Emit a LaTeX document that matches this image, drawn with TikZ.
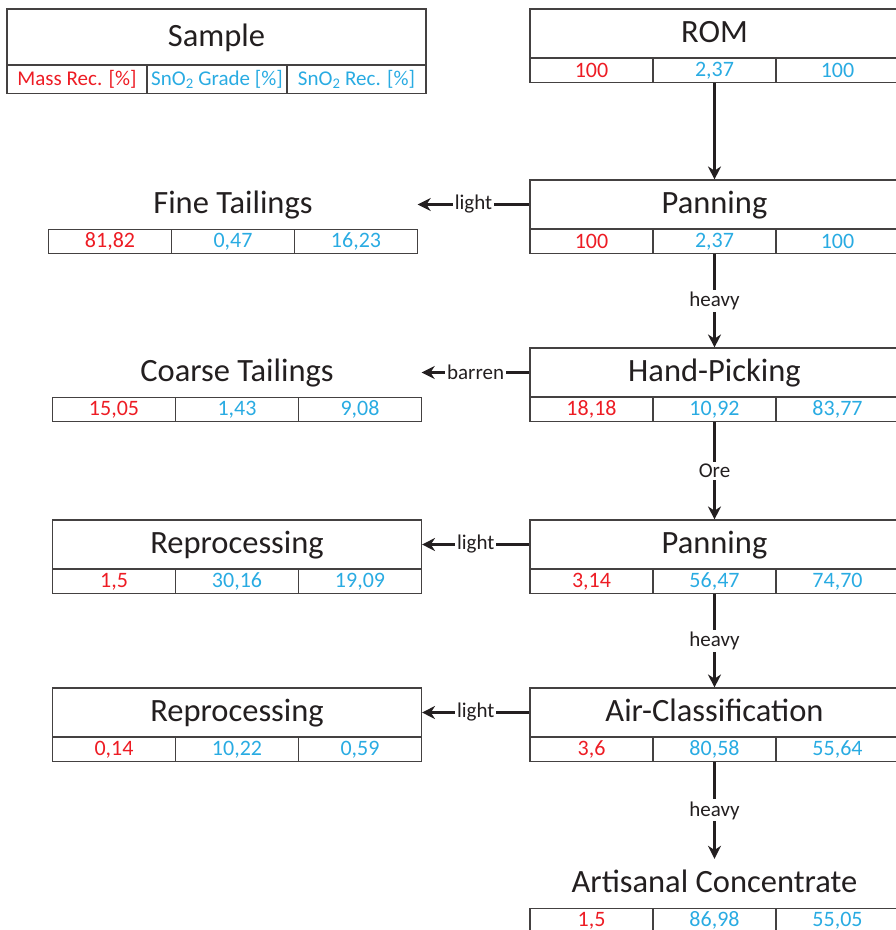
\documentclass[tikz,border=0pt]{standalone}
\usepackage{fontspec}
\setmainfont{Carlito}
\usepackage{xcolor}
\usepackage{tikz}
\usetikzlibrary{arrows.meta}

\definecolor{mred}{RGB}{237,28,36}
\definecolor{mblue}{RGB}{41,171,226}
\definecolor{ink}{RGB}{35,31,32}

\begin{document}
\begin{tikzpicture}[x=1pt,y=-1pt,
    ttl/.style={minimum width=369,minimum height=49,inner sep=0pt,text=ink,
        font=\fontsize{32.5}{36}\selectfont,text depth=4pt},
    framed/.style={ttl,draw=ink!85,line width=1.1pt},
    cell/.style={draw=ink!85,line width=1.1pt,minimum width=123,minimum height=24,
        inner sep=0pt,anchor=north,font=\fontsize{22}{24}\selectfont},
    flow/.style={draw=ink,line width=2.4pt,-{Stealth[length=13pt,width=13pt]}},
    lbl/.style={fill=white,inner sep=2pt,text=ink,font=\fontsize{21}{24}\selectfont}]

    % 画布
    \clip (0,0) rectangle (896,930);

    % 图例
    \node[framed,minimum width=419,minimum height=56] (smp) at (216.5,37) {Sample};
    \node[cell,minimum width=140,minimum height=28,text=mred,font=\fontsize{21}{24}\selectfont]
        (smp-m) at (77,65) {Mass Rec. [\%]};
    \node[cell,minimum width=140,minimum height=28,text=mblue,font=\fontsize{21}{24}\selectfont]
        (smp-g) at (217,65) {SnO\textsubscript{2} Grade [\%]};
    \node[cell,minimum width=139,minimum height=28,text=mblue,font=\fontsize{21}{24}\selectfont]
        (smp-r) at (356.5,65) {SnO\textsubscript{2} Rec. [\%]};

    % 各工序
    \foreach \n/\cx/\ty/\txt/\vm/\vg/\vr/\sty in {
        rom/714.5/9/ROM/100/{2,37}/100/framed,
        pan1/714.5/180/Panning/100/{2,37}/100/framed,
        hp/714.5/348/Hand-Picking/{18,18}/{10,92}/{83,77}/framed,
        pan2/714.5/520/Panning/{3,14}/{56,47}/{74,70}/framed,
        air/714.5/688/Air-Classification/{3,6}/{80,58}/{55,64}/framed,
        conc/714.5/859/Artisanal Concentrate/{1,5}/{86,98}/{55,05}/ttl,
        fine/233/180/Fine Tailings/{81,82}/{0,47}/{16,23}/ttl,
        coarse/237/348/Coarse Tailings/{15,05}/{1,43}/{9,08}/ttl,
        rep1/237/520/Reprocessing/{1,5}/{30,16}/{19,09}/framed,
        rep2/237/688/Reprocessing/{0,14}/{10,22}/{0,59}/framed}{
        \node[\sty] (\n) at (\cx,\ty+24.5) {\txt};
        \node[cell,text=mred] (\n-m) at (\cx-123,\ty+49) {\vm};
        \node[cell,text=mblue] (\n-g) at (\cx,\ty+49) {\vg};
        \node[cell,text=mblue] (\n-r) at (\cx+123,\ty+49) {\vr};
    }

    % 主流程
    \draw[flow] (rom-g) -- (pan1);
    \draw[flow] (pan1-g) -- node[lbl] {heavy} (hp);
    \draw[flow] (hp-g) -- node[lbl] {Ore} (pan2);
    \draw[flow] (pan2-g) -- node[lbl] {heavy} (air);
    \draw[flow] (air-g) -- node[lbl] {heavy} (conc);

    % 尾矿分支
    \draw[flow] (pan1) -- node[lbl] {light} (fine);
    \draw[flow] (hp) -- node[lbl] {barren} (coarse);
    \draw[flow] (pan2) -- node[lbl] {light} (rep1);
    \draw[flow] (air) -- node[lbl] {light} (rep2);

\end{tikzpicture}
\end{document}
